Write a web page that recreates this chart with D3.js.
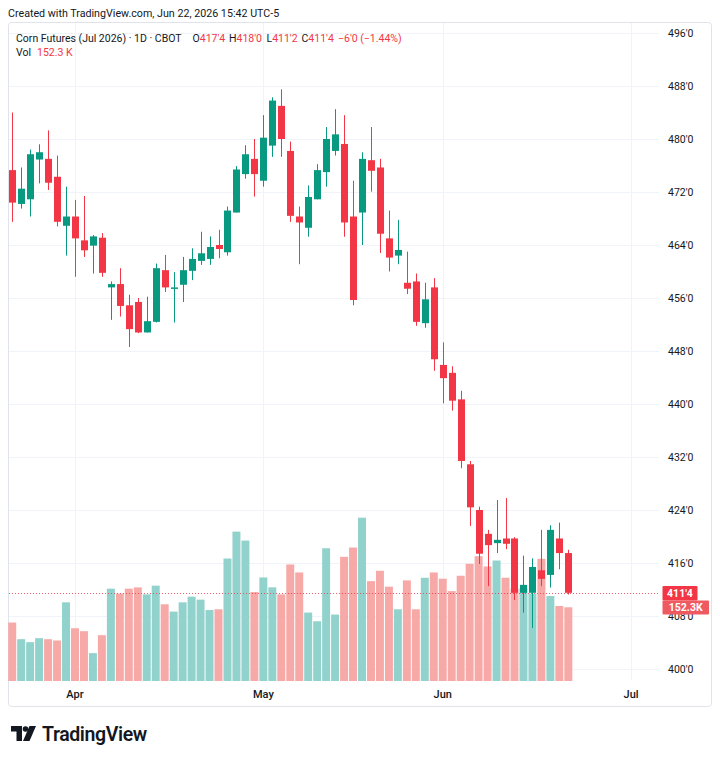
<!DOCTYPE html>
<html><head><meta charset="utf-8">
<script src="https://cdn.jsdelivr.net/npm/d3@7"></script>
<style>body{margin:0;background:#fff}svg{display:block}text{font-family:Roboto,"Noto Sans",sans-serif}</style>
</head><body><svg id="c" width="720" height="760"></svg>
<script>
// ---- data ----
const open  = [475.3,470.2,470.9,476.9,477.0,474.3,466.9,468.3,464.7,463.9,465.1,457.6,458.1,454.9,455.4,450.8,452.4,460.2,457.4,458.0,460.1,461.6,461.9,464.0,462.9,468.9,474.7,477.0,473.7,479.0,485.0,478.2,468.3,466.6,470.9,475.0,478.2,479.25,468.3,468.9,476.8,475.7,465.0,462.4,458.3,458.5,452.2,457.6,445.9,444.7,440.7,430.9,424.0,420.4,419.0,419.7,419.7,411.5,411.5,414.9,414.2,419.7,417.5];
const high  = [484.0,475.7,478.4,479.2,481.3,477.5,472.8,470.8,471.4,465.5,465.8,458.5,460.5,456.5,456.0,456.2,461.2,462.5,459.9,462.2,463.5,466.0,465.3,466.3,469.8,475.9,479.05,480.0,483.6,486.3,487.5,479.6,469.8,473.0,476.2,481.8,484.5,483.6,473.7,478.0,481.8,477.0,469.2,467.8,463.0,459.7,458.3,459.0,449.3,445.7,442.0,431.4,424.5,421.0,425.5,425.8,419.9,417.1,416.7,421.0,421.7,422.1,418.0];
const low   = [467.5,469.5,468.3,473.3,472.3,466.8,462.4,459.2,462.2,459.7,459.2,452.7,453.2,448.6,450.7,450.8,452.3,456.9,452.3,455.4,458.7,461.0,461.0,462.0,462.4,468.9,474.0,471.3,472.8,477.3,477.3,467.5,461.1,465.25,470.9,472.8,477.5,465.25,454.9,464.0,472.05,462.8,460.0,461.1,456.6,451.8,451.5,445.0,440.1,439.0,430.3,421.6,415.85,412.5,417.5,418.1,410.4,408.5,406.2,412.5,412.3,415.05,411.25];
const close = [470.4,472.5,477.7,478.0,473.4,467.5,468.3,465.0,463.2,465.3,459.8,458.1,454.8,451.3,450.8,452.5,460.5,457.6,457.6,460.2,461.9,462.75,463.7,463.4,469.2,475.4,477.7,474.7,480.2,485.8,480.0,468.4,467.4,471.25,475.3,480.0,480.7,467.4,455.7,477.0,475.2,465.7,462.1,463.25,457.4,452.4,455.8,446.75,443.9,440.5,431.4,424.4,417.4,418.7,419.5,418.9,411.5,412.7,415.4,413.6,421.0,417.5,411.5];
const volumeK = [120.8,86.4,80.3,88.5,86.4,83.7,162.6,109.0,102.9,57.6,94.7,190.8,180.5,190.8,193.5,179.0,197.0,158.5,143.4,162.6,174.3,168.1,146.7,148.2,253.1,308.7,290.2,183.8,214.0,193.5,179.0,240.8,224.3,141.4,123.5,274.3,137.3,256.6,275.8,337.5,206.4,227.8,194.9,148.2,207.9,148.2,213.4,224.3,211.4,185.8,217.5,242.2,257.9,236.7,249.0,213.4,190.8,192.0,180.5,252.5,175.5,155.0,152.3];
const priceTicks = [400,408,416,424,432,440,448,456,464,472,480,488,496];
const monthLabels = ["Apr","May","Jun","Jul"];
const monthStarts = ["2026-04-01","2026-05-01","2026-06-01","2026-07-01"];
const holidays = ["2026-04-03","2026-05-25","2026-06-19"];

// ---- sessions (trading days) ----
const fmt = d3.timeFormat("%Y-%m-%d");
const sessions = d3.timeDay.range(new Date(2026,2,23), new Date(2026,6,2))
  .filter(d => d.getDay() % 6 !== 0 && !holidays.includes(fmt(d))).map(fmt);
const candles = open.map((o,i)=>({i, date:sessions[i], o, h:high[i], l:low[i], c:close[i], v:volumeK[i]}));

const UP = "#089981", DOWN = "#F23645";
const VUP = "#92d2cc", VDOWN = "#f7a9a7";
const TXT = "#131722";
const svg = d3.select("#c");

const plotL = 8, plotR = 659, plotT = 22, plotB = 680;
const x = d3.scaleLinear().domain([0, sessions.length-1]).range([12.2, 631.1]);
const y = d3.scaleLinear().domain([400, 496]).range([669, 33]);
const yv = d3.scaleLinear().domain([0, 152.3]).range([681, 607.3]);
const step = x(1) - x(0);
const pf = v => { const f = Math.floor(v + 1e-9); return f + "'" + Math.round((v - f) * 8); };

// header
svg.append("text").attr("x", 8).attr("y", 17).attr("font-size", 10.7).attr("fill", TXT)
  .text("Created with TradingView.com, Jun 22, 2026 15:42 UTC-5");

// frame
svg.append("rect").attr("x", 8.5).attr("y", 22.5).attr("width", 703).attr("height", 684)
  .attr("rx", 3).attr("fill", "none").attr("stroke", "#e0e3eb");

// gridlines
svg.append("g").selectAll("line").data(priceTicks).join("line")
  .attr("x1", plotL+1).attr("x2", plotR).attr("y1", d => Math.round(y(d))+0.5).attr("y2", d => Math.round(y(d))+0.5)
  .attr("stroke", "#f0f3fa");
svg.append("g").selectAll("line").data(monthStarts).join("line")
  .attr("x1", d => Math.round(x(sessions.indexOf(d)))+0.5).attr("x2", d => Math.round(x(sessions.indexOf(d)))+0.5)
  .attr("y1", plotT+1).attr("y2", plotB).attr("stroke", "#f0f3fa");

// price axis labels
svg.append("g").selectAll("text").data(priceTicks).join("text")
  .attr("x", 668).attr("y", d => y(d)).attr("dy", "0.35em").attr("font-size", 10.5).attr("fill", TXT)
  .text(d => pf(d));

// month labels
svg.append("g").selectAll("text").data(monthStarts).join("text")
  .attr("x", d => x(sessions.indexOf(d))).attr("y", 697.5).attr("text-anchor", "middle")
  .attr("font-size", 11).attr("font-weight", 500).attr("fill", TXT)
  .text((d,i) => monthLabels[i]);

// volume bars
svg.append("g").selectAll("rect").data(candles).join("rect")
  .attr("x", d => x(d.i) - step/2 + 0.5).attr("width", step - 1)
  .attr("y", d => yv(d.v)).attr("height", d => yv(0) - yv(d.v))
  .attr("fill", d => d.c >= d.o ? VUP : VDOWN);

// last price dotted line
const last = candles[candles.length-1];
svg.append("line").attr("x1", plotL+1).attr("x2", plotR).attr("y1", Math.round(y(last.c))+0.5).attr("y2", Math.round(y(last.c))+0.5)
  .attr("stroke", DOWN).attr("stroke-dasharray", "1,2").attr("opacity", 0.8);

// candles
const cg = svg.append("g").selectAll("g").data(candles).join("g");
cg.append("line")
  .attr("x1", d => Math.round(x(d.i))+0.5).attr("x2", d => Math.round(x(d.i))+0.5)
  .attr("y1", d => y(d.h)).attr("y2", d => y(d.l))
  .attr("stroke", d => d.c >= d.o ? UP : DOWN).attr("stroke-width", 1);
cg.append("rect")
  .attr("x", d => Math.round(x(d.i)) - 3).attr("width", 7)
  .attr("y", d => y(Math.max(d.o, d.c))).attr("height", d => Math.max(1.5, Math.abs(y(d.o) - y(d.c))))
  .attr("fill", d => d.c >= d.o ? UP : DOWN);

// right labels
svg.append("rect").attr("x", 662.5).attr("y", 586).attr("width", 35).attr("height", 14.5).attr("fill", DOWN).attr("rx", 1);
svg.append("text").attr("x", 680).attr("y", 593.3).attr("dy", "0.36em").attr("text-anchor", "middle")
  .attr("font-size", 10.5).attr("font-weight", 700).attr("fill", "#fff").text(pf(last.c));
svg.append("rect").attr("x", 662.5).attr("y", 600.5).attr("width", 46.5).attr("height", 14).attr("fill", "#ef5a60").attr("rx", 1);
svg.append("text").attr("x", 685.7).attr("y", 607.6).attr("dy", "0.36em").attr("text-anchor", "middle")
  .attr("font-size", 10.5).attr("font-weight", 700).attr("fill", "#fff").text(last.v.toFixed(1) + "K");

// legend
const chg = last.c - candles[candles.length-2].c;
const pct = chg / candles[candles.length-2].c * 100;
const lg = svg.append("text").attr("y", 41.5).attr("font-size", 10.5).attr("fill", TXT);
lg.append("tspan").attr("x", 16).text("Corn Futures (Jul 2026) · 1D · CBOT");
const items = [["O", last.o, 192.5], ["H", last.h, 229], ["L", last.l, 266.5], ["C", last.c, 301.5]];
items.forEach(([k, v, px]) => {
  lg.append("tspan").attr("x", px).attr("fill", TXT).text(k);
  lg.append("tspan").attr("fill", DOWN).text(pf(v));
});
lg.append("tspan").attr("x", 338).attr("fill", DOWN)
  .text("\u2212" + pf(Math.abs(chg)) + " (\u2212" + Math.abs(pct).toFixed(2) + "%)");
const vl = svg.append("text").attr("y", 56).attr("font-size", 10.5).attr("fill", TXT);
vl.append("tspan").attr("x", 16).text("Vol");
vl.append("tspan").attr("x", 37).attr("fill", DOWN).text(last.v.toFixed(1) + " K");

// TradingView logo
const logo = svg.append("g").attr("transform", "translate(11,726)").attr("fill", TXT);
logo.append("path").attr("d", "M0,0 H11 V15 H5.5 V5.5 H0 Z");
logo.append("circle").attr("cx", 14.5).attr("cy", 3).attr("r", 2.8);
logo.append("path").attr("d", "M18.5,0 H25 L18.5,15 H12 Z");
svg.append("text").attr("x", 42).attr("y", 740.5).attr("font-size", 19.5).attr("font-weight", 600)
  .attr("letter-spacing", -0.4).attr("fill", TXT).text("TradingView");
</script></body></html>
